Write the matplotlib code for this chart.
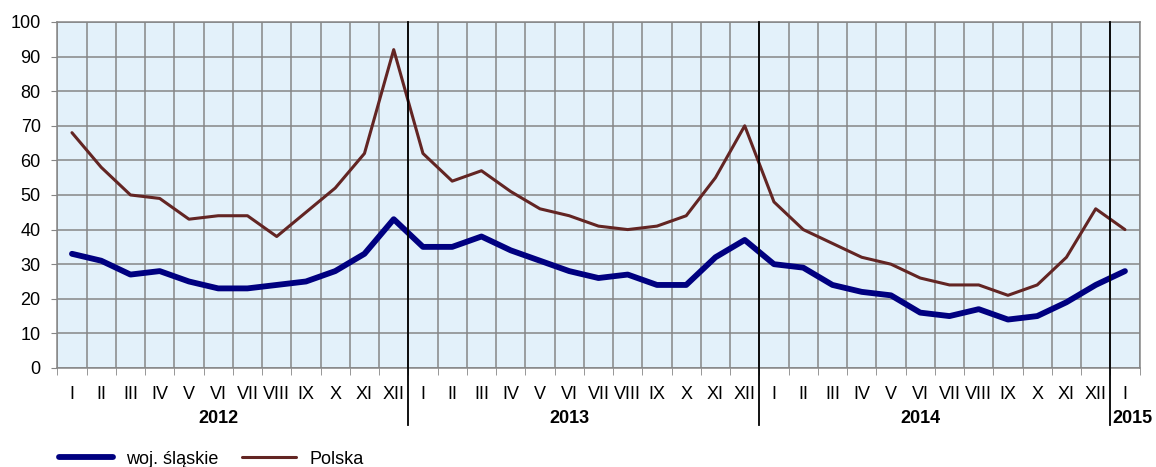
import numpy
import matplotlib
import matplotlib.pyplot as plt
import matplotlib.transforms as mtransforms

plt.rcParams['font.family'] = ['Liberation Sans', 'DejaVu Sans']

months = ['I', 'II', 'III', 'IV', 'V', 'VI', 'VII', 'VIII', 'IX', 'X', 'XI', 'XII'] * 3 + ['I']
years = ['2012', '2013', '2014', '2015']
slaskie = [33, 31, 27, 28, 25, 23, 23, 24, 25, 28, 33, 43,
           35, 35, 38, 34, 31, 28, 26, 27, 24, 24, 32, 37,
           30, 29, 24, 22, 21, 16, 15, 17, 14, 15, 19, 24,
           28]
polska = [68, 58, 50, 49, 43, 44, 44, 38, 45, 52, 62, 92,
          62, 54, 57, 51, 46, 44, 41, 40, 41, 44, 55, 70,
          48, 40, 36, 32, 30, 26, 24, 24, 21, 24, 32, 46,
          40]


def main():
    n = len(months)
    x = numpy.arange(n)
    fs = 13
    fig = plt.figure(figsize=(11.56, 4.67), dpi=100)
    ax = fig.add_axes([0.0496, 0.212, 0.9362, 0.741])
    ax.set_facecolor('#E3F1FA')

    ax.plot(x, slaskie, color='#000080', lw=4.2, solid_capstyle='round',
            solid_joinstyle='round', label='woj. śląskie', zorder=4)
    ax.plot(x, polska, color='#632523', lw=2.2, solid_capstyle='round',
            label='Polska', zorder=3)

    ax.set_xlim(-0.5, n - 0.5)
    ax.set_ylim(0, 100)
    ax.set_yticks(range(0, 101, 10))
    ax.set_xticks(x)
    ax.set_xticklabels(months)
    ax.set_xticks(numpy.arange(-0.5, n, 1.0), minor=True)
    ax.tick_params(axis='x', which='major', length=0, pad=13, labelsize=fs)
    ax.tick_params(axis='x', which='minor', length=5, color='#868686', direction='out')
    ax.tick_params(axis='y', length=4, color='#868686', pad=8, labelsize=fs)
    ax.grid(which='minor', axis='x', color='#868686', lw=1.1)
    ax.grid(which='major', axis='y', color='#868686', lw=1.1)
    ax.set_axisbelow(True)
    for s in ax.spines.values():
        s.set_color('#868686')
        s.set_linewidth(1.1)

    trans = mtransforms.blended_transform_factory(ax.transData, ax.transAxes)
    # separators between years
    for b in (11.5, 23.5, 35.5):
        ax.plot([b, b], [1.0, -0.165], transform=trans, color='black', lw=1.3,
                clip_on=False, zorder=5)
    for i, yr in enumerate(years[:3]):
        ax.text(i * 12 + 5, -0.145, yr, transform=trans, ha='center', va='center',
                fontsize=fs, fontweight='bold')
    ax.text(35.58, -0.145, years[3], transform=trans, ha='left', va='center',
            fontsize=fs, fontweight='bold')

    fig.legend(loc='center left', bbox_to_anchor=(0.045, 0.017), ncol=2, frameon=False,
               fontsize=fs, handlelength=3.0, columnspacing=1.3, handletextpad=0.72,
               borderaxespad=0.0)

    fig.savefig('out.png', dpi=100)
    plt.close('all')


if __name__ == '__main__':
    main()
